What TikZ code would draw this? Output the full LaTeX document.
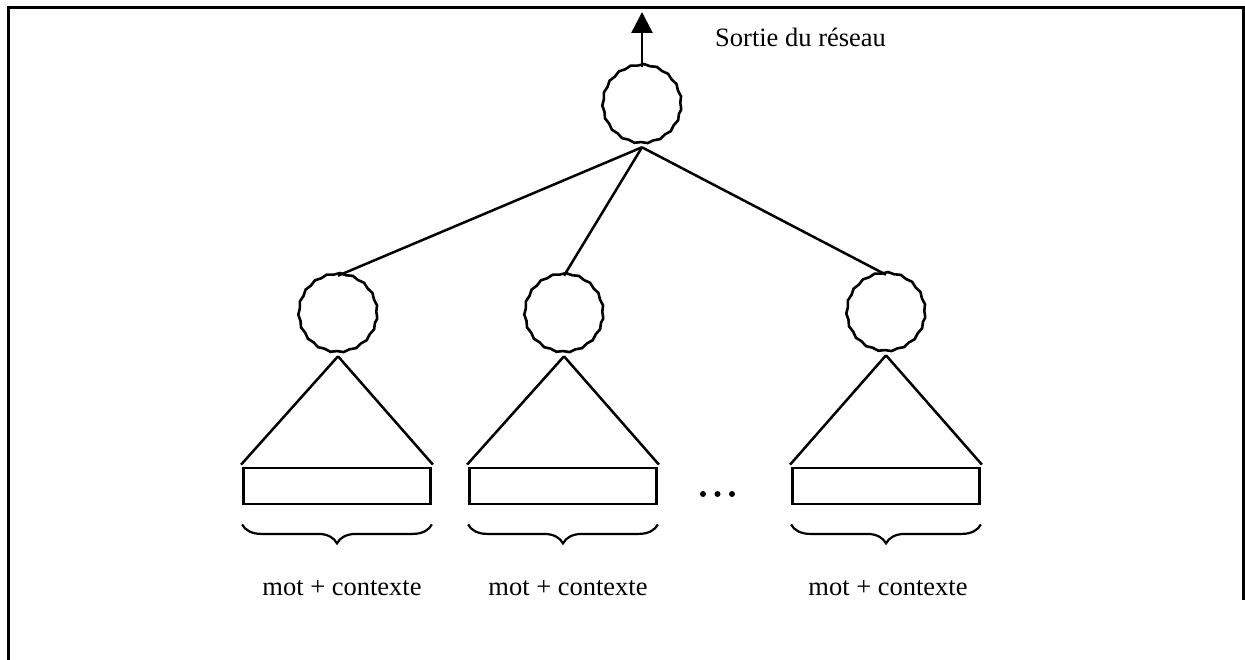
\documentclass[tikz,border=0pt]{standalone}
\usepackage{fontspec}
\setmainfont{Liberation Serif}
\usetikzlibrary{arrows.meta,decorations.pathmorphing,decorations.pathreplacing}
\tikzset{
  neuron/.style={circle, draw, line width=2.6bp, minimum size=78bp, inner sep=0pt,
    decorate, decoration={snake, amplitude=0.7bp, segment length=13bp}},
  inputbox/.style={rectangle, draw, line width=2.8bp, minimum width=187bp, minimum height=36bp, inner sep=0pt},
  link/.style={line width=2.5bp},
  underbrace/.style={line width=2.2bp, decorate, decoration={brace, mirror, amplitude=19bp}},
  label/.style={font=\fontsize{26.5bp}{32bp}\selectfont, inner sep=0pt},
  dot/.style={circle, fill, inner sep=0pt, minimum size=6bp},
  frame/.style={line width=3.2bp}
}
\begin{document}
\begin{tikzpicture}[x=1bp, y=-1bp]
  \useasboundingbox (0,0) rectangle (1245,660);
  % page frame
  \draw[frame] (8.5,660) -- (8.5,7.5) -- (1243.5,7.5) -- (1243.5,600);

  % output unit and its arrow
  \node[neuron] (out) at (642,107) {};
  \coordinate (tip) at (642,12);
  \draw[link, -{Triangle[length=21bp, width=21bp]}] (out.north) -- (tip);
  \node[label, anchor=base west] (outlabel) at (715,47) {Sortie du réseau};

  % hidden units
  \node[neuron] (h1) at (338,316) {};
  \node[neuron] (h2) at (564,316) {};
  \node[neuron] (h3) at (886,315) {};
  \foreach \h in {h1,h2,h3}
    \draw[link] (out.south) -- (\h.north);

  % input windows
  \node[inputbox] (r1) at (337,486) {};
  \node[inputbox] (r2) at (563,486) {};
  \node[inputbox] (r3) at (886,486) {};
  \foreach \h/\r in {h1/r1,h2/r2,h3/r3} {
    \draw[link] (\h.south) -- ([xshift=-1bp,yshift=2bp]\r.north west);
    \draw[link] (\h.south) -- ([xshift=1bp,yshift=2bp]\r.north east);
  }

  % ellipsis between windows
  \node[dot] (d1) at (703,494) {};
  \node[dot] (d2) at (717.5,494) {};
  \node[dot] (d3) at (732,494) {};

  % braces and their captions
  \foreach \r in {r1,r2,r3}
    \draw[underbrace] ([yshift=-19bp]\r.south west) -- ([yshift=-19bp]\r.south east);
  \node[label, anchor=base] (l1) at (342,595) {mot + contexte};
  \node[label, anchor=base] (l2) at (568,595) {mot + contexte};
  \node[label, anchor=base] (l3) at (888,595) {mot + contexte};
\end{tikzpicture}
\end{document}
